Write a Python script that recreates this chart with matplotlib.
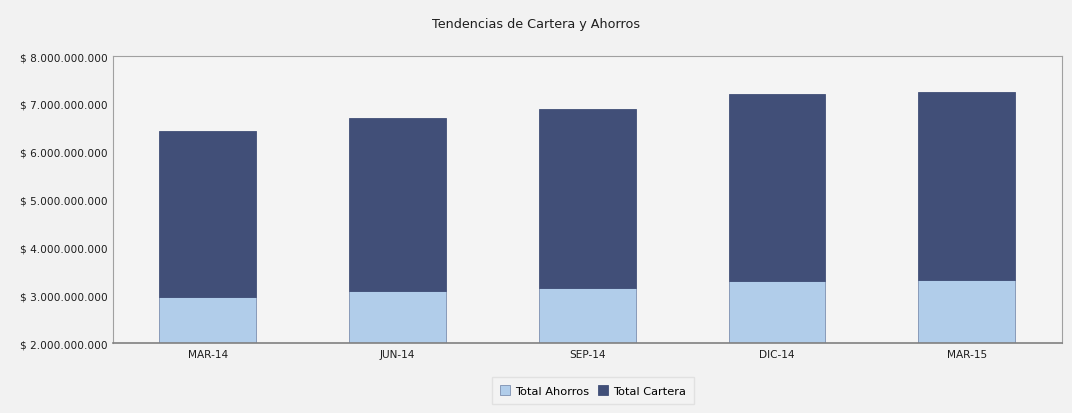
import matplotlib
matplotlib.use('Agg')
import matplotlib.pyplot as plt
from matplotlib.ticker import FuncFormatter

periodos = ['MAR-14', 'JUN-14', 'SEP-14', 'DIC-14', 'MAR-15']
total_ahorros = [2.97e9, 3.09e9, 3.15e9, 3.30e9, 3.32e9]
total_cartera_tope = [6.44e9, 6.70e9, 6.90e9, 7.21e9, 7.26e9]
base = 2.0e9

# altura de cada tramo (el grafico empieza en 2.000 millones)
alto_ahorros = [a - base for a in total_ahorros]
alto_cartera = [t - a for t, a in zip(total_cartera_tope, total_ahorros)]

fig = plt.figure(figsize=(10.72, 4.14), dpi=100, facecolor='#f2f2f2')
ax = fig.add_axes([0.1054, 0.169, 0.885, 0.693])
ax.set_facecolor('#f4f4f4')

x = range(len(periodos))
ax.bar(x, alto_ahorros, bottom=base, width=0.51, color='#b1cdea',
       edgecolor='#7d8fb0', linewidth=0.6, label='Total Ahorros')
ax.bar(x, alto_cartera, bottom=total_ahorros, width=0.51, color='#414f78',
       edgecolor='#414f78', linewidth=0.6, label='Total Cartera')

ax.set_ylim(2e9, 8e9)
ax.set_xlim(-0.5, len(periodos) - 0.5)
ax.set_yticks([2e9, 3e9, 4e9, 5e9, 6e9, 7e9, 8e9])
ax.yaxis.set_major_formatter(FuncFormatter(
    lambda v, p: '$ ' + f'{v:,.0f}'.replace(',', '.')))
ax.set_xticks(list(x))
ax.set_xticklabels(periodos)
ax.tick_params(axis='both', length=0, labelsize=7.6, colors='#1e1e1e', pad=4)
for s in ax.spines.values():
    s.set_color('#a0a0a0')
    s.set_linewidth(0.8)
ax.spines['bottom'].set_color('#808080')
ax.spines['bottom'].set_linewidth(1.2)

fig.text(0.5, 0.94, 'Tendencias de Cartera y Ahorros', ha='center',
         va='center', fontsize=9.2, color='#1e1e1e')

leg = fig.legend(loc='center', bbox_to_anchor=(0.553, 0.054), ncol=2,
                 fontsize=8.2, frameon=True, handlelength=0.9,
                 handleheight=0.9, columnspacing=0.8, handletextpad=0.4,
                 borderpad=0.7, fancybox=False)
leg.get_frame().set_facecolor('#f4f4f4')
leg.get_frame().set_edgecolor('#dddddd')

plt.savefig('out.png', dpi=100, facecolor=fig.get_facecolor())
